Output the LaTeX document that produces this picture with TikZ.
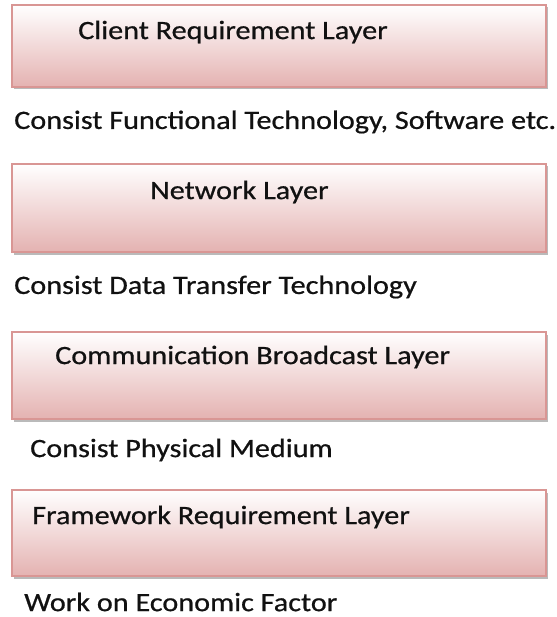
\documentclass[tikz,border=0pt]{standalone}
\usepackage{fontspec}
\setmainfont{Carlito}
\newfontfamily\lblfont{Carlito}[FakeBold=0.6]
\usetikzlibrary{shadows}
\definecolor{boxline}{HTML}{D99694}
\definecolor{boxbot}{HTML}{E4B2B1}
\definecolor{txt}{HTML}{111111}
\tikzset{
  layerbox/.style={draw=boxline, line width=1.2pt, top color=white, bottom color=boxbot,
    drop shadow={shadow xshift=2pt, shadow yshift=-2.5pt, fill=black!45, opacity=0.6}},
  lbl/.style={anchor=west, inner sep=0pt, xscale=1.14, font=\lblfont\fontsize{26.5}{30}\selectfont, text=txt}
}
\begin{document}
\begin{tikzpicture}[x=1pt,y=-1pt]
\useasboundingbox (0,0) rectangle (556,617);
\path[layerbox] (12,5) rectangle (546,87);
\path[layerbox] (12,164) rectangle (546,252);
\path[layerbox] (12,332) rectangle (546,419);
\path[layerbox] (12,490) rectangle (546,576);
\node[lbl] (l1) at (78,32) {Client Requirement Layer};
\node[lbl] (d1) at (14,122) {Consist Functional Technology, Software etc.};
\node[lbl] (l2) at (150,192) {Network Layer};
\node[lbl] (d2) at (14,287) {Consist Data Transfer Technology};
\node[lbl] (l3) at (55,357) {Communication Broadcast Layer};
\node[lbl] (d3) at (30,450) {Consist Physical Medium};
\node[lbl] (l4) at (32,517) {Framework Requirement Layer};
\node[lbl] (d4) at (24,602) {Work on Economic Factor};
\end{tikzpicture}
\end{document}
